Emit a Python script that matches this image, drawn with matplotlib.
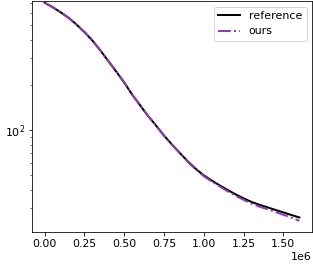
import numpy as np
import matplotlib
matplotlib.use("Agg")
import matplotlib.pyplot as plt
from matplotlib.ticker import MultipleLocator

plt.rcParams['font.size'] = 11

# values
x = [0.0, 0.05e6, 0.1e6, 0.15e6, 0.2e6, 0.25e6, 0.3e6, 0.35e6, 0.4e6,
     0.45e6, 0.5e6, 0.55e6, 0.6e6, 0.65e6, 0.7e6, 0.75e6, 0.8e6, 0.85e6,
     0.9e6, 0.95e6, 1.0e6, 1.05e6, 1.1e6, 1.15e6, 1.2e6, 1.25e6, 1.3e6,
     1.35e6, 1.4e6, 1.45e6, 1.5e6, 1.55e6, 1.6e6]
reference = [706, 659, 610, 560, 505, 450, 395, 339, 288,
             245, 207, 172, 146, 124, 107, 91.8, 80, 70.1,
             61.7, 55.0, 49.8, 46.0, 42.7, 39.8, 37.2, 35.0, 33.1,
             31.7, 30.5, 29.3, 28.2, 27.1, 26.1]
ours = [706, 659, 610, 560, 505, 450, 396, 340, 289,
        246, 208, 172, 146, 124, 107, 91.5, 79.6, 69.7,
        61.2, 54.4, 49.2, 45.3, 42.0, 39.0, 36.4, 34.2, 32.3,
        30.8, 29.6, 28.4, 27.2, 26.0, 24.8]

fig = plt.figure(figsize=(313 / 72, 270 / 72), dpi=72)
ax = fig.add_axes([0.102, 0.141, 0.895, 0.855])

ax.plot(x, reference, color='black', lw=2, label='reference')
ax.plot(x, ours, '-.', color='#8e3cb0', lw=2, label='ours')
ax.set_yscale('log')
ax.set_ylim(20.9, 724)
ax.xaxis.set_major_locator(MultipleLocator(0.25e6))
ax.legend(loc='upper right')

fig.savefig('out.png', dpi=72)
